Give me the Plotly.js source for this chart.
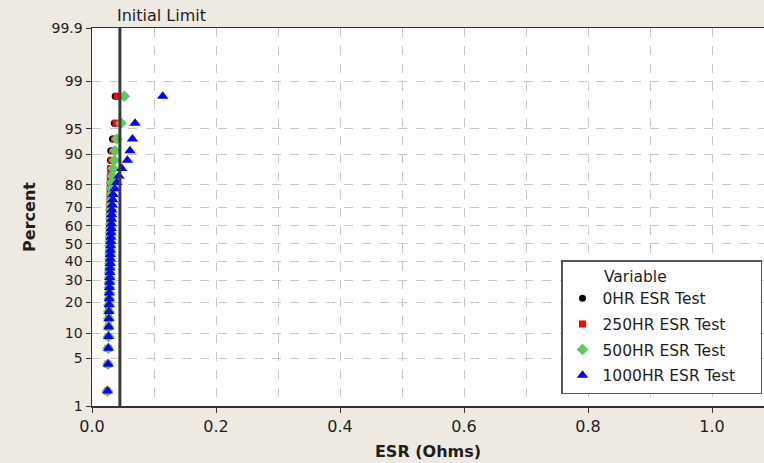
<!DOCTYPE html>
<html>
<head>
<meta charset="utf-8">
<script src="https://cdn.plot.ly/plotly-3.0.1.min.js"></script>
<style>html,body{margin:0;padding:0;background:#EEEAE1;}</style>
</head>
<body>
<div id="chart" style="width:764px;height:463px;"></div>
<script>
// ESR readings (Ohms), sorted, 40 parts per test
const esr0 = [0.0244,0.0253,0.0258,0.0261,0.0263,0.0265,0.0266,0.0268,0.0269,0.0270,
  0.0271,0.0272,0.0273,0.0274,0.0275,0.0276,0.0277,0.0278,0.0279,0.0280,
  0.0281,0.0282,0.0283,0.0284,0.0285,0.0286,0.0287,0.0288,0.0289,0.0290,
  0.0291,0.0292,0.0293,0.0294,0.0296,0.0298,0.0302,0.0330,0.0360,0.0374];
const esr250 = [0.0246,0.0255,0.0259,0.0262,0.0264,0.0266,0.0268,0.0269,0.0271,0.0272,
  0.0273,0.0274,0.0275,0.0276,0.0277,0.0278,0.0279,0.0280,0.0281,0.0282,
  0.0283,0.0284,0.0285,0.0286,0.0287,0.0288,0.0289,0.0290,0.0291,0.0292,
  0.0293,0.0294,0.0295,0.0297,0.0300,0.0317,0.0330,0.0366,0.0387,0.0408];
const esr500 = [0.0250,0.0258,0.0263,0.0266,0.0268,0.0270,0.0272,0.0274,0.0276,0.0277,
  0.0279,0.0280,0.0282,0.0283,0.0285,0.0286,0.0288,0.0289,0.0291,0.0292,
  0.0294,0.0295,0.0297,0.0298,0.0300,0.0301,0.0303,0.0304,0.0306,0.0308,
  0.0310,0.0312,0.0318,0.0327,0.0340,0.0360,0.0371,0.0400,0.0468,0.0520];
const esr1000 = [0.0250,0.0260,0.0264,0.0267,0.0270,0.0272,0.0274,0.0276,0.0278,0.0280,
  0.0282,0.0284,0.0286,0.0288,0.0290,0.0292,0.0294,0.0296,0.0298,0.0300,
  0.0302,0.0304,0.0306,0.0309,0.0312,0.0315,0.0318,0.0322,0.0327,0.0333,
  0.0340,0.0370,0.0400,0.0435,0.0480,0.0570,0.0613,0.0653,0.0694,0.1140];

const seriesNames = ["0HR ESR Test","250HR ESR Test","500HR ESR Test","1000HR ESR Test\u00a0\u00a0\u00a0\u00a0"];
const seriesColors = ["#000000","#FF0000","#5FC95F","#0000FF"];
const seriesSymbols = ["circle","square","diamond","triangle-up"];
const seriesSizes = [7,7,9,10];

const percentTicks = [1,5,10,20,30,40,50,60,70,80,90,95,99,99.9];
const percentTickText = ["1","5","10","20","30","40","50","60","70","80","90","95","99","99.9"];
const initialLimit = 0.045;

// inverse standard normal CDF (Acklam) for probability-scale axis
function normInv(p){
  const a=[-3.969683028665376e+01,2.209460984245205e+02,-2.759285104469687e+02,1.383577518672690e+02,-3.066479806614716e+01,2.506628277459239e+00];
  const b=[-5.447609879822406e+01,1.615858368580409e+02,-1.556989798598866e+02,6.680131188771972e+01,-1.328068155288572e+01];
  const c=[-7.784894002430293e-03,-3.223964580411365e-01,-2.400758277161838e+00,-2.549732539343734e+00,4.374664141464968e+00,2.938163982698783e+00];
  const d=[7.784695709041462e-03,3.224671290700398e-01,2.445134137142996e+00,3.754408661907416e+00];
  const pl=0.02425, ph=1-pl; let q,r;
  if(p<pl){q=Math.sqrt(-2*Math.log(p));return (((((c[0]*q+c[1])*q+c[2])*q+c[3])*q+c[4])*q+c[5])/((((d[0]*q+d[1])*q+d[2])*q+d[3])*q+1);}
  if(p<=ph){q=p-0.5;r=q*q;return (((((a[0]*r+a[1])*r+a[2])*r+a[3])*r+a[4])*r+a[5])*q/(((((b[0]*r+b[1])*r+b[2])*r+b[3])*r+b[4])*r+1);}
  q=Math.sqrt(-2*Math.log(1-p));return -(((((c[0]*q+c[1])*q+c[2])*q+c[3])*q+c[4])*q+c[5])/((((d[0]*q+d[1])*q+d[2])*q+d[3])*q+1);
}
// median-rank plotting positions
function zPositions(n){ const z=[]; for(let i=1;i<=n;i++) z.push(normInv((i-0.3)/(n+0.4))); return z; }

const allSeries=[esr0,esr250,esr500,esr1000];
const traces = allSeries.map((vals,k)=>{
  const z=zPositions(vals.length);
  return {type:'scatter',mode:'markers',x:vals,y:z,name:seriesNames[k],legendgroup:'g'+k,
    marker:{color:seriesColors[k],symbol:seriesSymbols[k],size:seriesSizes[k],line:{width:0}},
    hoverinfo:'x+name'};
});

const font = "DejaVu Sans, Verdana, sans-serif";
const layout = {
  width:764,height:463,
  paper_bgcolor:'#EEEAE1',plot_bgcolor:'#FFFFFF',
  margin:{l:92,r:0,t:28,b:57},
  font:{family:font,size:15,color:'#1E1E1E'},
  showlegend:true,
  xaxis:{range:[0,672/620],dtick:0.2,tick0:0,tickformat:'.1f',
    showgrid:true,gridcolor:'#C8C8C8',griddash:'dash',gridwidth:1,
    minor:{dtick:0.1,showgrid:true,gridcolor:'#C8C8C8',griddash:'dash',ticks:''},
    ticks:'outside',ticklen:5,tickcolor:'#333',
    showline:true,linecolor:'#333',linewidth:1.5,mirror:true,zeroline:false,
    title:{text:'<b>ESR (Ohms)</b>',font:{size:16},standoff:11},
    tickfont:{size:16}},
  yaxis:{range:[normInv(0.01),normInv(0.999)],tickmode:'array',
    tickvals:percentTicks.map(p=>normInv(p/100)),ticktext:percentTickText,
    showgrid:true,gridcolor:'#C8C8C8',griddash:'dash',gridwidth:1,
    ticks:'outside',ticklen:5,tickcolor:'#333',
    showline:true,linecolor:'#333',linewidth:1.5,zeroline:false,
    title:{text:'<b>Percent</b>',font:{size:16},standoff:12},
    tickfont:{size:14}},
  legend:{x:(561-92)/672,xanchor:'left',y:(406-394)/378,yanchor:'bottom',
    bgcolor:'#FFFFFF',bordercolor:'#555',borderwidth:1.5,
    title:{text:'\u00a0\u00a0\u00a0\u00a0\u00a0\u00a0\u00a0\u00a0Variable',font:{size:15.5}},font:{size:15.5},
    itemsizing:'trace',itemwidth:30,traceorder:'grouped',tracegroupgap:2.5},
  shapes:[{type:'line',xref:'x',yref:'paper',x0:initialLimit,x1:initialLimit,y0:0,y1:1,
    line:{color:'#3A3A3A',width:3},layer:'above'}],
  annotations:[{xref:'x',yref:'paper',x:initialLimit,y:1,yanchor:'bottom',xanchor:'center',
    xshift:42,yshift:1,text:'Initial Limit',showarrow:false,font:{size:16}}]
};
Plotly.newPlot('chart',traces,layout,{displayModeBar:false,staticPlot:true});
</script>
</body>
</html>
